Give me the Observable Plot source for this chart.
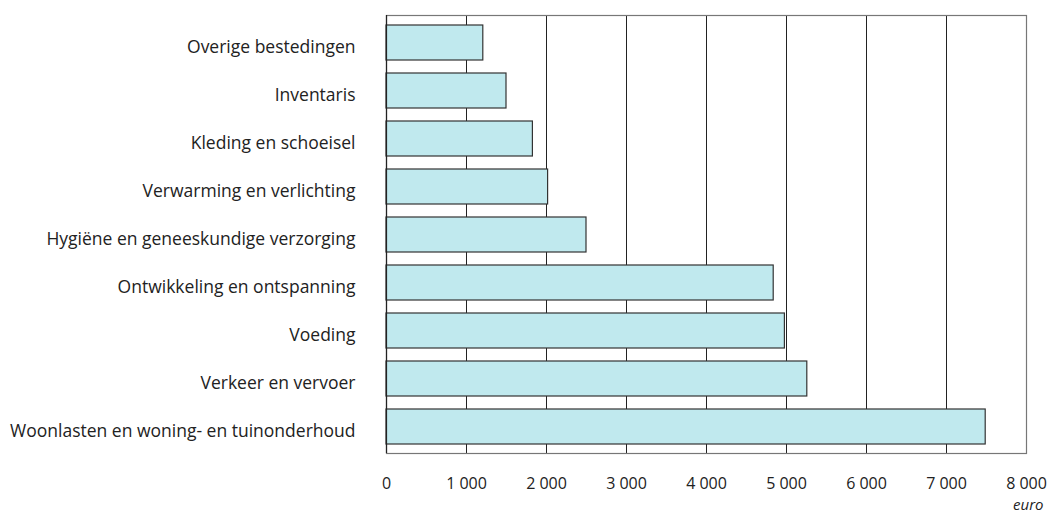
<!DOCTYPE html>
<html>
<head>
<meta charset="utf-8">
<script src="https://cdn.jsdelivr.net/npm/d3@7"></script>
<script src="https://cdn.jsdelivr.net/npm/@observablehq/plot@0.6"></script>
<style>
  body { margin: 0; background: #fff; }
  svg { font-family: "Open Sans", Lato, sans-serif; }
</style>
</head>
<body>
<div id="chart"></div>
<script>
const categories = [
  "Overige bestedingen",
  "Inventaris",
  "Kleding en schoeisel",
  "Verwarming en verlichting",
  "Hygiëne en geneeskundige verzorging",
  "Ontwikkeling en ontspanning",
  "Voeding",
  "Verkeer en vervoer",
  "Woonlasten en woning- en tuinonderhoud"
];
const values = [1210, 1500, 1830, 2020, 2500, 4840, 4980, 5260, 7490];
const xTicks = [0, 1000, 2000, 3000, 4000, 5000, 6000, 7000, 8000];
const unitLabel = "euro";

const data = categories.map((c, i) => ({category: c, value: values[i]}));
const fmt = v => d3.format(",")(v).replace(/,/g, " ");

const chart = Plot.plot({
  width: 1050,
  height: 516,
  marginLeft: 386,
  marginRight: 24,
  marginTop: 15,
  marginBottom: 63,
  style: {fontSize: "17px", color: "#222"},
  x: {domain: [0, 8000], ticks: xTicks, tickFormat: fmt, label: null},
  y: {domain: categories, paddingInner: 0.28, paddingOuter: 0.143, label: null},
  marks: [
    Plot.ruleX(xTicks, {stroke: "#222", strokeWidth: 1}),
    Plot.frame({stroke: "#777", strokeWidth: 1.2}),
    Plot.barX(data, {x: "value", y: "category", fill: "#c0e9ee", stroke: "#333", strokeWidth: 1.2}),
    Plot.ruleX([0], {stroke: "#222", strokeWidth: 1.2}),
    Plot.axisX({ticks: xTicks, tickFormat: fmt, tickSize: 0, tickPadding: 24, fontSize: 16, fill: "#222"}),
    Plot.axisY({tickSize: 0, tickPadding: 31, fontSize: 17.5, fill: "#222", dy: 4}),
    Plot.text([unitLabel], {frameAnchor: "bottom-right", textAnchor: "end", dx: 17, dy: 56, fontStyle: "italic", fontSize: 15, fill: "#222"})
  ]
});
document.getElementById("chart").appendChild(chart);
</script>
</body>
</html>
